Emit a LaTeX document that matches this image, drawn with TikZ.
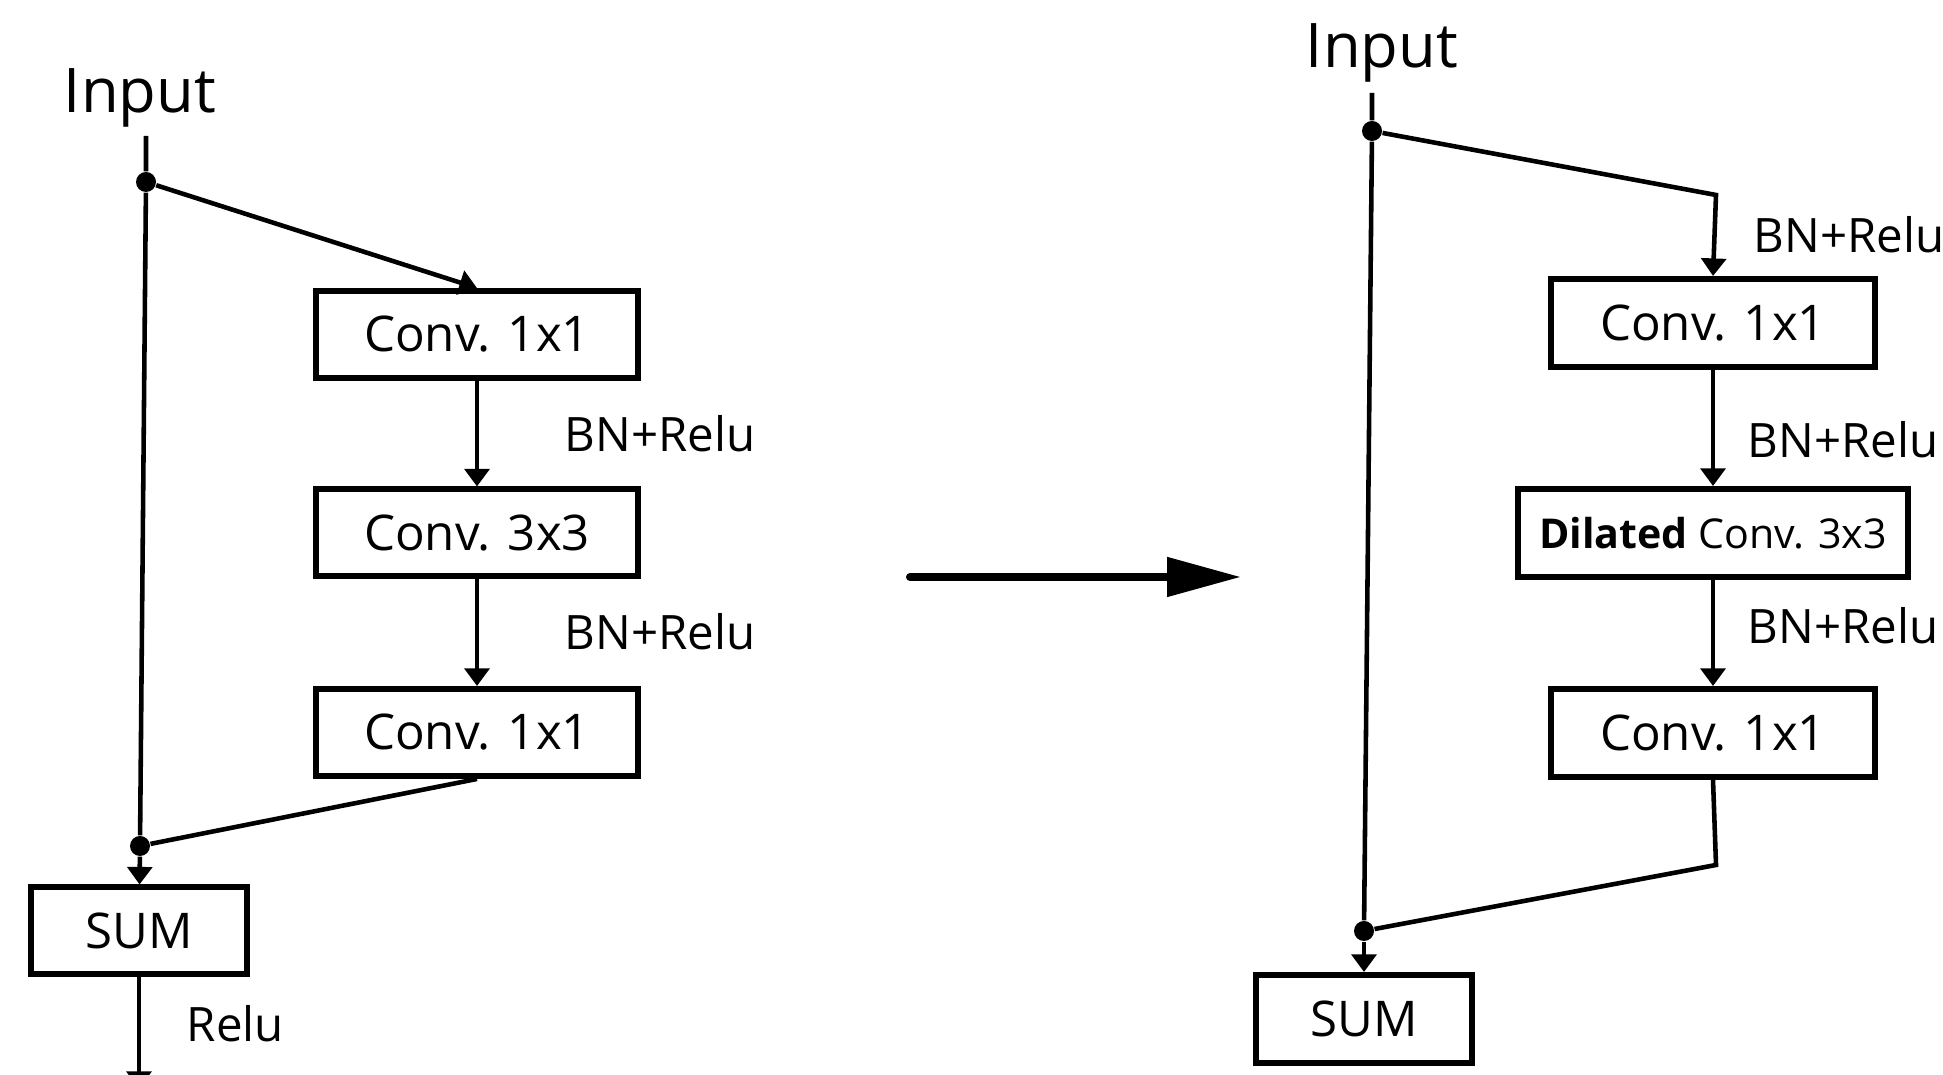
\documentclass[tikz,border=0pt]{standalone}
\usepackage{fontspec}
\setmainfont{Open Sans}
\usetikzlibrary{calc}
\usetikzlibrary{arrows.meta}

\tikzset{
    block/.style={draw, line width=1.7pt, minimum width=3.22cm, minimum height=0.87cm,
        inner sep=0pt, font=\fontsize{14}{16}\selectfont},
    sumblock/.style={block, minimum width=2.16cm},
    flow/.style={line width=1.3pt},
    flowarrow/.style={flow, -{Triangle[length=5pt,width=7pt]}},
    junction/.style={circle, fill, inner sep=0pt, minimum size=0.2cm},
    bnlabel/.style={anchor=west, inner sep=0pt, font=\fontsize{13.5}{15}\selectfont},
    inlabel/.style={inner sep=0pt, font=\fontsize{17.5}{20}\selectfont},
}

\begin{document}
\begin{tikzpicture}
    \useasboundingbox (0,0) rectangle (19.43,10.75);
    \clip (0,0) rectangle (19.43,10.75);

    % left block
    \node[inlabel] (inL) at (1.40,9.77) {Input};
    \coordinate (topL) at (1.46,9.39);
    \node[junction] (dot1L) at (1.46,8.93) {};
    \node[junction] (dot2L) at (1.40,2.29) {};
    \node[block] (conv1L) at (4.77,7.405) {Conv. 1x1};
    \node[block] (conv2L) at (4.77,5.42) {Conv. 3x3};
    \node[block] (conv3L) at (4.77,3.425) {Conv. 1x1};
    \node[sumblock] (sumL) at (1.39,1.44) {SUM};
    \coordinate (endL) at (1.39,-0.14);

    \draw[flow] (topL)--(dot1L)--(dot2L);
    \draw[flowarrow] (dot1L)--(conv1L.north);
    \draw[flowarrow] (conv1L)--(conv2L);
    \draw[flowarrow] (conv2L)--(conv3L);
    \draw[flow] (conv3L.south)--(dot2L);
    \draw[flowarrow] (dot2L)--(sumL);
    \draw[flowarrow] (sumL)--(endL);

    \node[bnlabel] (bn1L) at (5.64,6.41) {BN+Relu};
    \node[bnlabel] (bn2L) at (5.64,4.43) {BN+Relu};
    \node[bnlabel] (reluL) at (1.86,0.51) {Relu};

    % middle arrow
    \coordinate (arrA) at (9.10,4.98);
    \coordinate (arrB) at (12.41,4.98);
    \draw[line width=2.3pt, line cap=round, -{Triangle[length=0.74cm,width=0.38cm]}] (arrA)--(arrB);

    % right block
    \node[inlabel] (inR) at (13.82,10.22) {Input};
    \coordinate (topR) at (13.72,9.82);
    \node[junction] (dot1R) at (13.72,9.44) {};
    \coordinate (bendR) at (17.16,8.80);
    \node[block, minimum width=3.24cm, minimum height=0.88cm] (conv1R) at (17.13,7.52) {Conv. 1x1};
    \node[block, minimum width=3.90cm, minimum height=0.88cm, font=\fontsize{11.7}{14}\selectfont]
        (dilR) at (17.13,5.42) {\textbf{Dilated} Conv. 3x3};
    \node[block, minimum width=3.24cm, minimum height=0.88cm] (conv3R) at (17.13,3.42) {Conv. 1x1};
    \coordinate (bend2R) at (17.16,2.10);
    \node[junction] (dot2R) at (13.64,1.44) {};
    \node[sumblock, minimum height=0.88cm] (sumR) at (13.64,0.56) {SUM};

    \draw[flow] (topR)--(dot1R)--(dot2R);
    \draw[flowarrow] (dot1R)--(bendR)--(conv1R.north);
    \draw[flowarrow] (conv1R)--(dilR);
    \draw[flowarrow] (dilR)--(conv3R);
    \draw[flow] (conv3R.south)--(bend2R)--(dot2R);
    \draw[flowarrow] (dot2R)--(sumR);

    \node[bnlabel] (bn0R) at (17.53,8.40) {BN+Relu};
    \node[bnlabel] (bn1R) at (17.47,6.35) {BN+Relu};
    \node[bnlabel] (bn2R) at (17.47,4.49) {BN+Relu};

\end{tikzpicture}
\end{document}
